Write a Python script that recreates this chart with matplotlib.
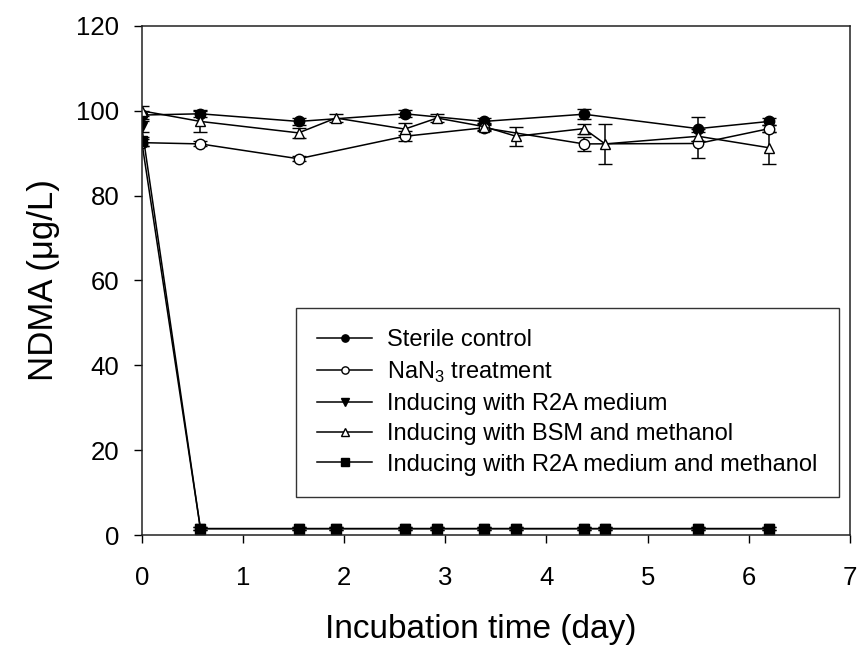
import matplotlib
matplotlib.use("Agg")
import matplotlib.pyplot as plt

plt.rcParams['font.family'] = ['Liberation Sans', 'DejaVu Sans']
plt.rcParams['mathtext.fontset'] = 'custom'
plt.rcParams['mathtext.rm'] = 'Liberation Sans'

# sampling days
days_short = [0, 0.58, 1.55, 2.6, 3.38, 4.37, 5.5, 6.2]
days_full = [0, 0.58, 1.55, 1.92, 2.6, 2.92, 3.38, 3.7, 4.37, 4.58, 5.5, 6.2]

# NDMA (ug/L), mean and error
sterile = [99.0, 99.3, 97.5, 99.3, 97.5, 99.2, 95.8, 97.5]
sterile_err = [1.0, 0.8, 0.8, 0.8, 0.8, 1.2, 2.8, 0.8]

nan3 = [92.5, 92.2, 88.7, 94.0, 96.0, 92.2, 92.3, 95.8]
nan3_err = [0.8, 0.6, 0.6, 1.2, 0.8, 1.6, 3.5, 0.9]

r2a = [96.3, 1.5, 1.5, 1.5, 1.5, 1.5, 1.5, 1.5, 1.5, 1.5, 1.5, 1.5]
r2a_err = [1.2, 0.3, 0.3, 0.3, 0.3, 0.3, 0.3, 0.3, 0.3, 0.3, 0.3, 0.3]

bsm_meoh = [100.0, 97.5, 94.8, 98.3, 95.7, 98.3, 96.3, 94.0, 95.8, 92.2, 94.0, 91.3]
bsm_meoh_err = [1.2, 2.5, 1.2, 1.0, 1.5, 1.0, 0.8, 2.3, 1.2, 4.7, 1.0, 3.8]

r2a_meoh = [92.8, 1.5, 1.5, 1.5, 1.5, 1.5, 1.5, 1.5, 1.5, 1.5, 1.5, 1.5]
r2a_meoh_err = [1.0, 0.3, 0.3, 0.3, 0.3, 0.3, 0.3, 0.3, 0.3, 0.3, 0.3, 0.3]

fig = plt.figure(figsize=(8.61, 6.53), dpi=100)
ax = fig.add_axes([0.1646, 0.1807, 0.8226, 0.7795])

common = dict(color='black', ecolor='black', elinewidth=1.1, capsize=5,
              capthick=1.1, linewidth=1.1, markersize=7.5, markeredgewidth=1.0)

ax.errorbar(days_short, sterile, yerr=sterile_err, marker='o', mfc='black',
            label='Sterile control', **common)
ax.errorbar(days_short, nan3, yerr=nan3_err, marker='o', mfc='white',
            label='NaN$_3$ treatment', **common)
ax.errorbar(days_full, r2a, yerr=r2a_err, marker='v', mfc='black',
            label='Inducing with R2A medium', **common)
ax.errorbar(days_full, bsm_meoh, yerr=bsm_meoh_err, marker='^', mfc='white',
            label='Inducing with BSM and methanol', **common)
ax.errorbar(days_full, r2a_meoh, yerr=r2a_meoh_err, marker='s', mfc='black',
            label='Inducing with R2A medium and methanol', **common)

ax.set_xlim(0, 7)
ax.set_ylim(0, 120)
ax.set_xticks(range(0, 8))
ax.set_yticks(range(0, 121, 20))
ax.tick_params(direction='out', length=6, width=1, labelsize=18.5)
ax.tick_params(axis='x', pad=16)
ax.tick_params(axis='y', pad=10)
for s in ax.spines.values():
    s.set_linewidth(1.1)
    s.set_color('#222222')

ax.set_xlabel('Incubation time (day)', fontsize=24, labelpad=16)
ax.xaxis.set_label_coords(0.478, -0.155)
ax.set_ylabel('NDMA (\u03bcg/L)', fontsize=25, labelpad=12)

# legend shows only line + marker, no error bars
handles, labels = ax.get_legend_handles_labels()
handles = [h[0] for h in handles]
leg = ax.legend(handles, labels, loc='lower right', bbox_to_anchor=(0.984, 0.075),
                fontsize=17, frameon=True, fancybox=False, edgecolor='black',
                handlelength=2.3, markerscale=0.7, labelspacing=0.35,
                borderpad=0.9, handletextpad=0.65, borderaxespad=0)
leg.get_frame().set_linewidth(1.0)

fig.savefig('out.png', dpi=100)
